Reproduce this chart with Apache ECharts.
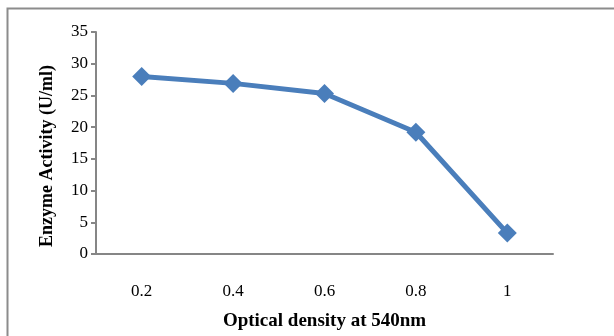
<!DOCTYPE html>
<html>
<head>
<meta charset="utf-8">
<script src="https://cdn.jsdelivr.net/npm/echarts@6/dist/echarts.min.js"></script>
<style>html,body{margin:0;padding:0;background:#fff}#c{width:614px;height:336px}</style>
</head>
<body>
<div id="c"></div>
<script>
const categories = ['0.2', '0.4', '0.6', '0.8', '1'];
const activity = [28.0, 26.9, 25.3, 19.2, 3.3];
const yTicks = [0, 5, 10, 15, 20, 25, 30, 35];

const chart = echarts.init(document.getElementById('c'));
const axisColor = '#868686';
const font = '"Liberation Serif", "Times New Roman", serif';
chart.setOption({
  animation: false,
  graphic: [{
    type: 'rect', shape: {x: 7.5, y: 8.5, width: 620, height: 340},
    style: {fill: 'none', stroke: '#8c8c8c', lineWidth: 2}
  }],
  grid: {left: 96, top: 32, right: 61, bottom: 76},
  xAxis: {
    type: 'category', data: categories, boundaryGap: true,
    name: 'Optical density at 540nm', nameLocation: 'middle', nameGap: 58,
    nameTextStyle: {fontFamily: font, fontWeight: 'bold', fontSize: 19, color: '#000'},
    axisLine: {lineStyle: {color: axisColor, width: 2}},
    axisTick: {length: 5, lineStyle: {color: axisColor, width: 2}},
    axisLabel: {fontFamily: font, fontSize: 17, color: '#000', margin: 29}
  },
  yAxis: {
    type: 'value', min: yTicks[0], max: yTicks[yTicks.length - 1], interval: 5,
    name: 'Enzyme Activity (U/ml)', nameLocation: 'middle', nameGap: 40,
    nameTextStyle: {fontFamily: font, fontWeight: 'bold', fontSize: 18, color: '#000', padding: [0, 26, 0, 0]},
    axisLine: {show: true, lineStyle: {color: axisColor, width: 2}},
    axisTick: {show: true, length: 5, lineStyle: {color: axisColor, width: 2}},
    splitLine: {show: false},
    axisLabel: {fontFamily: font, fontSize: 17, color: '#000', margin: 8}
  },
  series: [{
    type: 'line', data: activity,
    symbol: 'diamond', symbolSize: 19,
    lineStyle: {color: '#4a7ebb', width: 5},
    itemStyle: {color: '#4a7ebb'}
  }]
});
</script>
</body>
</html>
